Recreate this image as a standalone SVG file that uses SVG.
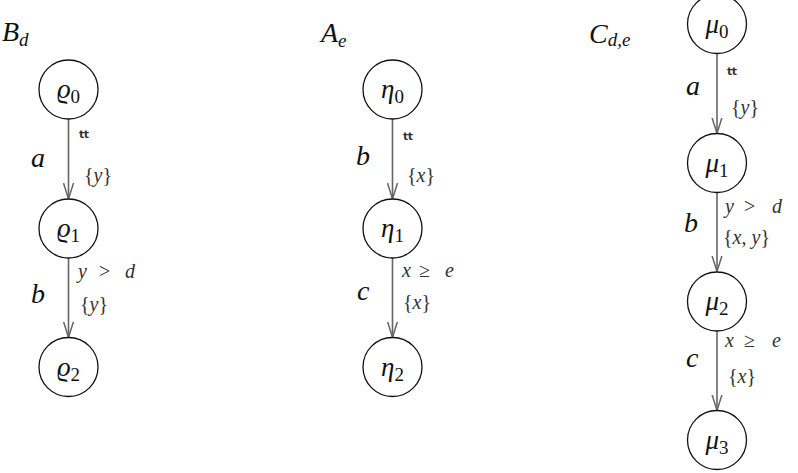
<svg xmlns="http://www.w3.org/2000/svg" width="798" height="473" viewBox="0 0 798 473">
<defs>
<style>
.nd circle{fill:#fff;stroke:#111;stroke-width:1.3}
.edge{stroke:#666;stroke-width:1.6;fill:none}
.big{font-family:'Liberation Serif',serif;font-style:italic;font-size:28px;fill:#111}
.lbl{font-family:'Liberation Serif',serif;font-size:27px;fill:#111;text-anchor:middle}
.sm{font-family:'Liberation Serif',serif;font-size:20px;fill:#333}
.tt{font-family:'DejaVu Sans',sans-serif;font-weight:bold;font-size:11px;fill:#333;letter-spacing:-0.5px}
</style>
<marker id="arr" markerUnits="userSpaceOnUse" viewBox="0 0 16 12" refX="16" refY="6" markerWidth="16" markerHeight="12" orient="auto">
<path d="M0,1 L16,6 L0,11" fill="none" stroke="#666" stroke-width="1.5"/>
</marker>
</defs>
<rect width="798" height="473" fill="#fff"/>

<g id="titles">
<text class="big" x="2" y="41">B<tspan font-size="19" dy="5">d</tspan></text>
<text class="big" x="321" y="42">A<tspan font-size="19" dy="5">e</tspan></text>
<text class="big" x="589" y="43">C<tspan font-size="19" dy="3">d,e</tspan></text>
</g>

<g id="connectors">
<line class="edge" x1="68.5" y1="119" x2="68.5" y2="199" marker-end="url(#arr)"/>
<line class="edge" x1="68.5" y1="258" x2="68.5" y2="337.5" marker-end="url(#arr)"/>
<line class="edge" x1="392.5" y1="119" x2="392.5" y2="199" marker-end="url(#arr)"/>
<line class="edge" x1="392.5" y1="258" x2="392.5" y2="337.5" marker-end="url(#arr)"/>
<line class="edge" x1="717" y1="53.5" x2="717" y2="133.5" marker-end="url(#arr)"/>
<line class="edge" x1="717" y1="192.5" x2="717" y2="271.5" marker-end="url(#arr)"/>
<line class="edge" x1="717" y1="331" x2="717" y2="410.5" marker-end="url(#arr)"/>

<text class="big" x="31" y="167">a</text>
<text class="tt" x="79" y="138">tt</text>
<text class="sm" x="84" y="182">{<tspan font-style="italic">y</tspan>}</text>
<text class="big" x="31" y="303">b</text>
<text class="sm" y="278" font-style="italic"><tspan x="78">y</tspan><tspan x="99" font-style="normal">&gt;</tspan><tspan x="125">d</tspan></text>
<text class="sm" x="80" y="311">{<tspan font-style="italic">y</tspan>}</text>

<text class="big" x="356" y="165">b</text>
<text class="tt" x="403" y="140">tt</text>
<text class="sm" x="407" y="182">{<tspan font-style="italic">x</tspan>}</text>
<text class="big" x="357" y="300">c</text>
<text class="sm" y="277" font-style="italic"><tspan x="402">x</tspan><tspan x="419" font-style="normal">≥</tspan><tspan x="445">e</tspan></text>
<text class="sm" x="403" y="309">{<tspan font-style="italic">x</tspan>}</text>

<text class="big" x="686" y="95">a</text>
<text class="tt" x="727" y="75">tt</text>
<text class="sm" x="731" y="114">{<tspan font-style="italic">y</tspan>}</text>
<text class="big" x="684" y="232">b</text>
<text class="sm" y="213" font-style="italic"><tspan x="725">y</tspan><tspan x="744" font-style="normal">&gt;</tspan><tspan x="772">d</tspan></text>
<text class="sm" x="723" y="244">{<tspan font-style="italic">x</tspan>, <tspan font-style="italic">y</tspan>}</text>
<text class="big" x="686" y="367">c</text>
<text class="sm" y="347" font-style="italic"><tspan x="725">x</tspan><tspan x="744" font-style="normal">≥</tspan><tspan x="772">e</tspan></text>
<text class="sm" x="728" y="383">{<tspan font-style="italic">x</tspan>}</text>
</g>

<g id="rho0" class="nd"><circle cx="68.5" cy="89.5" r="29.5"/><text class="lbl" x="68.5" y="98"><tspan font-style="italic">ϱ</tspan><tspan font-size="19" dy="5">0</tspan></text></g>
<g id="rho1" class="nd"><circle cx="68.5" cy="228.5" r="29.5"/><text class="lbl" x="68.5" y="237"><tspan font-style="italic">ϱ</tspan><tspan font-size="19" dy="5">1</tspan></text></g>
<g id="rho2" class="nd"><circle cx="68.5" cy="367" r="29.5"/><text class="lbl" x="68.5" y="375.5"><tspan font-style="italic">ϱ</tspan><tspan font-size="19" dy="5">2</tspan></text></g>

<g id="eta0" class="nd"><circle cx="392.5" cy="89.5" r="29.5"/><text class="lbl" x="392.5" y="98"><tspan font-style="italic">η</tspan><tspan font-size="19" dy="5">0</tspan></text></g>
<g id="eta1" class="nd"><circle cx="392.5" cy="228.5" r="29.5"/><text class="lbl" x="392.5" y="237"><tspan font-style="italic">η</tspan><tspan font-size="19" dy="5">1</tspan></text></g>
<g id="eta2" class="nd"><circle cx="392.5" cy="367" r="29.5"/><text class="lbl" x="392.5" y="375.5"><tspan font-style="italic">η</tspan><tspan font-size="19" dy="5">2</tspan></text></g>

<g id="mu0" class="nd"><circle cx="717" cy="24" r="29.5"/><text class="lbl" x="717" y="32.5"><tspan font-style="italic">μ</tspan><tspan font-size="19" dy="5">0</tspan></text></g>
<g id="mu1" class="nd"><circle cx="717" cy="163" r="29.5"/><text class="lbl" x="717" y="171.5"><tspan font-style="italic">μ</tspan><tspan font-size="19" dy="5">1</tspan></text></g>
<g id="mu2" class="nd"><circle cx="717" cy="301.5" r="29.5"/><text class="lbl" x="717" y="310"><tspan font-style="italic">μ</tspan><tspan font-size="19" dy="5">2</tspan></text></g>
<g id="mu3" class="nd"><circle cx="717" cy="440" r="29.5"/><text class="lbl" x="717" y="448.5"><tspan font-style="italic">μ</tspan><tspan font-size="19" dy="5">3</tspan></text></g>
</svg>
